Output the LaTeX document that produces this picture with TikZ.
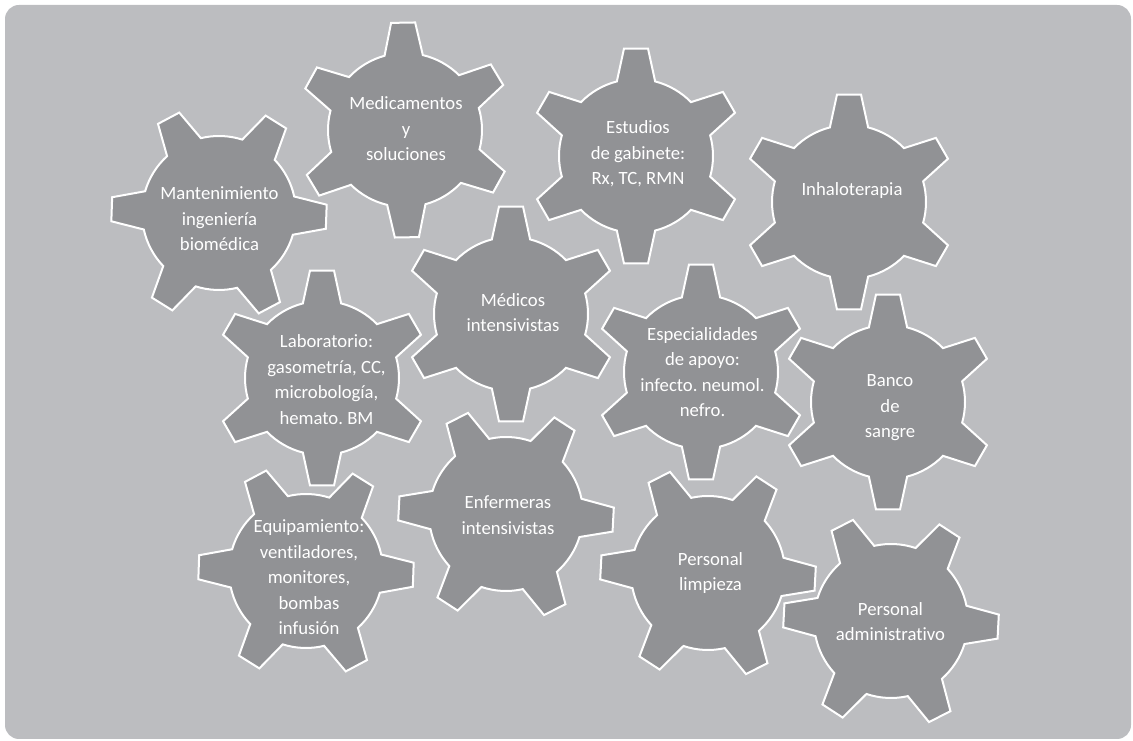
\documentclass[tikz,border=0pt]{standalone}
\usepackage{fontspec}
\setmainfont{Carlito}[Ligatures={NoCommon}]
\frenchspacing
\definecolor{bgc}{RGB}{188,189,192}
\definecolor{gearc}{RGB}{145,146,149}
\tikzset{
  gearshape/.style={fill=gearc, draw=white, line width=2pt, line join=miter},
  geartext/.style={text=white, align=center, inner sep=0pt, font=\fontsize{18.7}{25.5}\selectfont\frenchspacing},
}
\newcommand\drawgear[3]{%
  \begin{scope}[shift={(#1,741-#2)}, rotate=#3]
    \filldraw[gearshape] (-14.4:77) \foreach \k in {0,...,5}{ -- (60*\k-6.4:108) -- (60*\k+6.4:108) \foreach \j in {0,...,8}{ -- (60*\k+14.4+3.9*\j:77) } } -- cycle;
  \end{scope}}
\newcommand\gearlabel[4]{\node[geartext] (#1) at (#2,741-#3) {\strut #4\strut};}
\begin{document}
\begin{tikzpicture}[x=1pt,y=1pt]
\useasboundingbox (0,0) rectangle (1133,741);
\fill[bgc, rounded corners=14pt] (5,2) rectangle (1131,736);
\drawgear{219}{213}{-2}
\drawgear{405}{130}{31}
\drawgear{636}{156}{30}
\drawgear{849}{202}{30}
\drawgear{511}{314}{30}
\drawgear{322}{378}{30}
\drawgear{701}{372}{30}
\drawgear{888}{402}{30}
\drawgear{306}{571}{-2}
\drawgear{506}{514}{-3}
\drawgear{708}{573}{-3}
\drawgear{891}{621}{-3}
\gearlabel{mant}{219.5}{220.4}{Mantenimiento\\ingeniería\\biomédica}
\gearlabel{medi}{406}{130.4}{Medicamentos\\y\\soluciones}
\gearlabel{estu}{638}{154}{Estudios\\de gabinete:\\Rx, TC, RMN}
\gearlabel{inha}{852}{190}{Inhaloterapia}
\gearlabel{medc}{513}{314}{Médicos\\intensivistas}
\gearlabel{labo}{326.5}{381}{Laboratorio:\\gasometría, CC,\\microbología,\\hemato. BM}
\gearlabel{espe}{702.5}{373.6}{Especialidades\\de apoyo:\\infecto. neumol.\\nefro.}
\gearlabel{banc}{890}{407}{Banco\\de\\sangre}
\gearlabel{equi}{309}{578.6}{Equipamiento:\\ventiladores,\\monitores,\\bombas\\infusión}
\gearlabel{enfe}{508}{516.6}{Enfermeras\\intensivistas}
\gearlabel{limp}{710.5}{573}{Personal\\limpieza}
\gearlabel{admi}{890.5}{623}{Personal\\administrativo}
\end{tikzpicture}
\end{document}
